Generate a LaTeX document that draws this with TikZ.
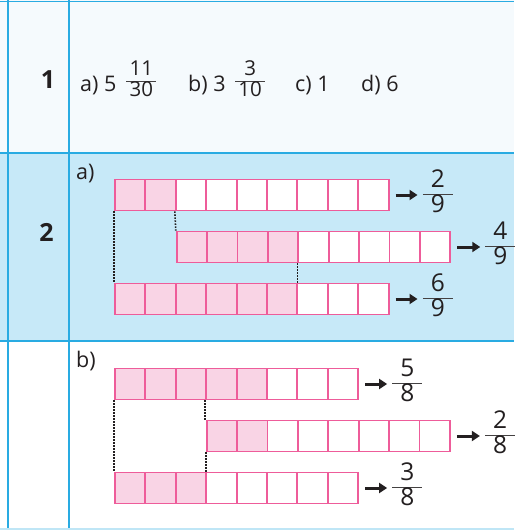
\documentclass[tikz,border=0pt]{standalone}
\usepackage{fontspec}
\usepackage{colortbl}
\setmainfont{Open Sans}
\usetikzlibrary{positioning,arrows.meta}

\definecolor{tabline}{HTML}{29ABE2}
\definecolor{rowblue}{HTML}{C7E9F8}
\definecolor{rowpale}{HTML}{F5FAFD}
\definecolor{cellline}{HTML}{EE5C9A}
\definecolor{cellpink}{HTML}{F9D4E5}
\definecolor{ink}{HTML}{231F20}

% stacked fraction: font size, numerator, denominator
\newcommand{\frc}[3]{{\fontsize{#1}{#1}\selectfont\renewcommand{\arraystretch}{0}%
  \setlength{\arrayrulewidth}{1pt}\arrayrulecolor{ink!85}%
  \begin{tabular}{@{}c@{}}\rule[-0.26em]{0pt}{1em}\makebox[30pt]{#2}\\\hline
  \rule[-0.30em]{0pt}{0.96em}#3\end{tabular}}}

\tikzset{
  cell/.style={draw=cellline, line width=1.9pt, minimum width=30.4pt, minimum height=31pt, inner sep=0pt},
  dotline/.style={ink, line width=1.6pt, dash pattern=on 1.4pt off 1.6pt},
  arr/.style={-{Triangle[length=8pt,width=10pt]}, line width=3pt, ink},
  lbl/.style={font=\fontsize{21.5}{25}\selectfont, text=ink, inner sep=0pt},
  num/.style={font=\fontsize{25}{30}\selectfont\bfseries, text=ink, inner sep=0pt},
  frac/.style={inner sep=0pt, text=ink},
}

\begin{document}
\begin{tikzpicture}[x=1pt, y=-1pt]
  \useasboundingbox (0,0) rectangle (514,530);

  % table rows and rules
  \fill[rowpale] (0,0) rectangle (514,153);
  \fill[rowblue] (0,153) rectangle (514,341);
  \fill[white] (0,341) rectangle (514,530);
  \draw[tabline, line width=1.5pt] (0,1.5) -- (514,1.5) (0,153) -- (514,153) (0,341) -- (514,341)
    (8,0) -- (8,530) (69,0) -- (69,530);
  \draw[tabline!30, line width=1.5pt] (0,529) -- (514,529);

  % row 1
  \node[num] (n1) at (48,80) {1};
  \node[lbl, anchor=base west] (r1a) at (80,91) {a) 5\hspace{10pt}\raisebox{4pt}{\frc{20.5}{11}{30}}};
  \node[lbl, anchor=base west] (r1b) at (188,91) {b) 3\hspace{9.5pt}\raisebox{4pt}{\frc{20.5}{3}{10}}};
  \node[lbl, anchor=base west] (r1c) at (295,91) {c) 1};
  \node[lbl, anchor=base west] (r1d) at (361,91) {d) 6};

  % row 2
  \node[num] (n2) at (46.5,232.5) {2};
  \node[lbl, anchor=base west] (pa) at (76,179.5) {a)};
  \node[lbl, anchor=base west] (pb) at (76,367.5) {b)};

  % bars of cells
  \foreach \r/\x/\y/\n/\k in {aa/115/195/9/2, ab/176.7/247/9/4, ac/115/299/9/6,
                              ba/115/384/8/5, bb/206.7/436/8/2, bc/115/488/8/3} {
    \foreach \i in {1,...,\n} {
      \ifnum\i>\k \def\cellfill{white}\else\def\cellfill{cellpink}\fi
      \node[cell, fill=\cellfill] (\r\i) at ({\x+(\i-0.5)*30.4}, \y) {};
    }
  }

  % dotted guides
  \draw[dotline] (aa1.south west) -- (ac1.north west);
  \draw[dotline] (aa3.south west) -- (ab1.north west);
  \draw[dotline] (ab5.south west) -- (ab5.south west |- ac1.north);
  \draw[dotline] (ba1.south west) -- (bc1.north west);
  \draw[dotline] (ba4.south west) -- (ba4.south west |- bb1.north);
  \draw[dotline] (bb1.south west) -- (bb1.south west |- bc1.north);

  % fractions
  \node[frac, right=33pt of aa9] (faa) {\frc{24.5}{2}{9}};
  \node[frac, right=34pt of ab9] (fab) {\frc{24.5}{4}{9}};
  \node[frac, right=33pt of ac9] (fac) {\frc{24.5}{6}{9}};
  \node[frac, right=33pt of ba8] (fba) {\frc{24.5}{5}{8}};
  \node[frac, right=34pt of bb8] (fbb) {\frc{24.5}{2}{8}};
  \node[frac, right=33pt of bc8] (fbc) {\frc{24.5}{3}{8}};

  \draw[arr] ([xshift=6pt]aa9.east) -- ([xshift=-5pt]faa.west);
  \draw[arr] ([xshift=6pt]ab9.east) -- ([xshift=-5pt]fab.west);
  \draw[arr] ([xshift=6pt]ac9.east) -- ([xshift=-5pt]fac.west);
  \draw[arr] ([xshift=6pt]ba8.east) -- ([xshift=-5pt]fba.west);
  \draw[arr] ([xshift=6pt]bb8.east) -- ([xshift=-5pt]fbb.west);
  \draw[arr] ([xshift=6pt]bc8.east) -- ([xshift=-5pt]fbc.west);
\end{tikzpicture}
\end{document}
